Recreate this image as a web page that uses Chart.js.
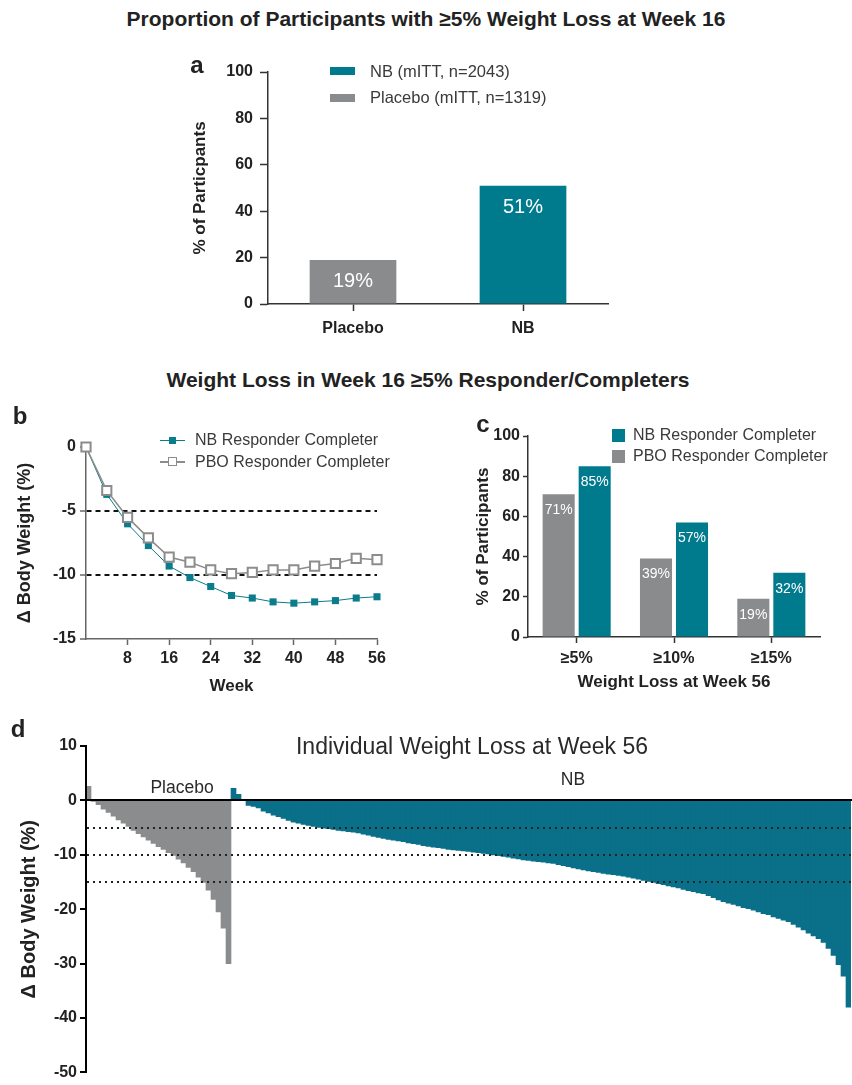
<!DOCTYPE html>
<html>
<head>
<meta charset="utf-8">
<script src="https://cdn.jsdelivr.net/npm/chart.js@4.4.1/dist/chart.umd.min.js"></script>
<style>
body { margin: 0; background: #fff; }
#page { position: relative; width: 852px; height: 1085px; overflow: hidden;
        font-family: Arial, "Liberation Sans", sans-serif; color: #222; }
#page canvas { position: absolute; }
.t { position: absolute; white-space: nowrap; transform: translate(-50%, -50%); }
.lg { position: absolute; white-space: nowrap; transform: translateY(-50%); font-size: 16px; color: #3a3a3a; }
.sw { position: absolute; box-sizing: border-box; }
</style>
</head>
<body>
<div id="page">
  <div class="t" style="left:426px;top:19px;font-weight:bold;font-size:21px">Proportion of Participants with ≥5% Weight Loss at Week 16</div>
  <canvas id="chartA" width="440" height="300" style="left:180px;top:40px"></canvas>
  <div class="t" style="left:197px;top:65px;font-weight:bold;font-size:24px">a</div>
  <div class="sw" style="left:330px;top:67px;width:25px;height:8px;background:#007b8e"></div>
  <div class="lg" style="left:370px;top:71px;font-size:16.5px">NB (mITT, n=2043)</div>
  <div class="sw" style="left:330px;top:94px;width:25px;height:8px;background:#898b8d"></div>
  <div class="lg" style="left:370px;top:97px;font-size:16.5px">Placebo (mITT, n=1319)</div>

  <div class="t" style="left:428px;top:380px;font-weight:bold;font-size:21px">Weight Loss in Week 16 ≥5% Responder/Completers</div>

  <canvas id="chartB" width="420" height="310" style="left:0px;top:390px"></canvas>
  <div class="t" style="left:20px;top:416px;font-weight:bold;font-size:24px">b</div>
  <div class="sw" style="left:160px;top:439.5px;width:25px;height:1px;background:#0a7c8c"></div>
  <div class="sw" style="left:169px;top:436.5px;width:7px;height:7px;background:#0a7c8c"></div>
  <div class="lg" style="left:195px;top:440px">NB Responder Completer</div>
  <div class="sw" style="left:160px;top:461px;width:25px;height:1.5px;background:#8c8c8c"></div>
  <div class="sw" style="left:168px;top:457px;width:9px;height:9px;background:#fff;border:1.5px solid #8c8c8c"></div>
  <div class="lg" style="left:195px;top:462px">PBO Responder Completer</div>

  <canvas id="chartC" width="412" height="300" style="left:440px;top:400px"></canvas>
  <div class="t" style="left:483px;top:424px;font-weight:bold;font-size:24px">c</div>
  <div class="sw" style="left:612px;top:429px;width:13px;height:13px;background:#007b8e"></div>
  <div class="lg" style="left:633px;top:435px">NB Responder Completer</div>
  <div class="sw" style="left:612px;top:450px;width:13px;height:13px;background:#898b8d"></div>
  <div class="lg" style="left:633px;top:456px">PBO Responder Completer</div>

  <canvas id="chartD" width="852" height="375" style="left:0px;top:710px"></canvas>
  <div class="t" style="left:18px;top:729px;font-weight:bold;font-size:24px">d</div>
  <div class="t" style="left:472px;top:746px;font-size:23px;color:#2a2a2a">Individual Weight Loss at Week 56</div>
  <div class="t" style="left:182px;top:787px;font-size:17.5px;color:#2a2a2a">Placebo</div>
  <div class="t" style="left:573px;top:779px;font-size:17.5px;color:#2a2a2a">NB</div>
</div>
<script>
// panel a: week 16 responders (mITT)
const groupsA = ['Placebo', 'NB'];
const respondersA = [19, 51];

// panel b: mean % change in body weight, week 16 >=5% responder/completers
const weeks = [0, 4, 8, 12, 16, 20, 24, 28, 32, 36, 40, 44, 48, 52, 56];
const nbChangeB = [0, -3.7, -6.0, -7.7, -9.3, -10.2, -10.9, -11.6, -11.8, -12.1, -12.2, -12.1, -12.0, -11.8, -11.7];
const pboChangeB = [0, -3.4, -5.5, -7.1, -8.6, -9.0, -9.6, -9.9, -9.8, -9.6, -9.6, -9.3, -9.1, -8.7, -8.8];

// panel c: weight loss categories at week 56
const thresholdsC = ['≥5%', '≥10%', '≥15%'];
const pboRespC = [71, 39, 19];
const nbRespC = [85, 57, 32];

// panel d: individual % change at week 56, sorted
const placeboIndividual = [2.6, -0.2, -0.8, -1.6, -2.2, -2.9, -3.6, -4.2, -4.8, -5.5,
  -6.1, -6.7, -7.3, -7.9, -8.5, -9.0, -9.6, -10.1, -10.8, -11.5,
  -12.3, -13.1, -14.1, -15.1, -16.5, -18.2, -20.5, -23.5, -30.0];
const nbIndividual = [2.2, 1.1, 0.2, -0.9, -1.1, -1.4, -2.0, -2.3, -2.7, -3.0,
  -3.3, -3.7, -4.0, -4.2, -4.4, -4.6, -4.8, -4.95, -5.1, -5.2,
  -5.35, -5.5, -5.6, -5.75, -5.85, -6.0, -6.2, -6.4, -6.6, -6.8,
  -7.0, -7.15, -7.3, -7.45, -7.6, -7.8, -7.95, -8.1, -8.3, -8.45,
  -8.6, -8.7, -8.85, -9.0, -9.1, -9.2, -9.3, -9.4, -9.5, -9.6,
  -9.75, -9.85, -10.0, -10.15, -10.3, -10.45, -10.6, -10.75, -10.95, -11.05,
  -11.15, -11.25, -11.35, -11.5, -11.6, -11.8, -12.0, -12.2, -12.4, -12.6,
  -12.8, -12.95, -13.1, -13.25, -13.4, -13.55, -13.65, -13.8, -13.95, -14.1,
  -14.3, -14.5, -14.7, -14.9, -15.1, -15.3, -15.5, -15.7, -15.9, -16.1,
  -16.35, -16.6, -16.8, -17.0, -17.15, -17.5, -17.9, -18.3, -18.6, -18.9,
  -19.1, -19.4, -19.7, -19.9, -20.2, -20.5, -20.8, -21.0, -21.4, -21.7,
  -22.0, -22.3, -22.8, -23.3, -23.8, -24.4, -24.9, -25.4, -26.1, -27.2,
  -28.5, -30.2, -32.3, -38.0];

const TEAL = '#007b8e';
const GRAY = '#898b8d';
const FONT = 'Arial, "Liberation Sans", sans-serif';
Chart.defaults.font.family = FONT;
Chart.defaults.color = '#222';

// white % labels inside the top of each bar
const barLabels = {
  id: 'barLabels',
  afterDatasetsDraw(chart, args, opts) {
    const ctx = chart.ctx;
    ctx.save();
    ctx.fillStyle = '#fff';
    ctx.font = opts.size + 'px ' + FONT;
    ctx.textAlign = 'center';
    ctx.textBaseline = 'middle';
    chart.data.datasets.forEach((ds, i) => {
      chart.getDatasetMeta(i).data.forEach((bar, j) => {
        ctx.fillText(ds.data[j] + '%', bar.x, bar.y + opts.offset);
      });
    });
    ctx.restore();
  }
};

const noPlugins = { legend: { display: false }, tooltip: { enabled: false } };

// a
new Chart(document.getElementById('chartA'), {
  type: 'bar',
  data: {
    labels: groupsA,
    datasets: [{ data: respondersA, backgroundColor: [GRAY, TEAL], barPercentage: 0.51, categoryPercentage: 1 }]
  },
  options: {
    responsive: false, animation: false,
    layout: { padding: { left: 0, top: 32, right: 12, bottom: 0 } },
    plugins: { ...noPlugins, barLabels: { size: 20, offset: 22 } },
    scales: {
      x: {
        afterFit: s => { s.height = 36; },
        grid: { drawOnChartArea: false, offset: false, tickLength: 7, tickColor: '#333', tickWidth: 1.5 },
        border: { color: '#333', width: 1.5 },
        ticks: { padding: 8, font: { size: 16, weight: 'bold' } }
      },
      y: {
        min: 0, max: 100,
        afterFit: s => { s.width = 88; },
        grid: { drawOnChartArea: false, tickLength: 8, tickColor: '#333', tickWidth: 1.5 },
        border: { color: '#333', width: 1.5 },
        ticks: { stepSize: 20, padding: 7, font: { size: 16, weight: 'bold' } },
        title: { display: true, text: '% of Particpants', font: { size: 17, weight: 'bold' }, padding: { top: 10, bottom: 0 } }
      }
    }
  },
  plugins: [barLabels]
});

// b
new Chart(document.getElementById('chartB'), {
  type: 'line',
  data: {
    datasets: [
      {
        label: 'NB Responder Completer', order: 2,
        data: weeks.map((w, i) => ({ x: w, y: nbChangeB[i] })),
        borderColor: '#0a7c8c', borderWidth: 1, pointStyle: 'rect', pointRadius: 5,
        pointBackgroundColor: '#0a7c8c', pointBorderColor: '#0a7c8c', pointBorderWidth: 0, clip: false
      },
      {
        label: 'PBO Responder Completer', order: 1,
        data: weeks.map((w, i) => ({ x: w, y: pboChangeB[i] })),
        borderColor: '#8c8c8c', borderWidth: 1.5, pointStyle: 'rect', pointRadius: 6.5,
        pointBackgroundColor: '#fff', pointBorderColor: '#8c8c8c', pointBorderWidth: 2, clip: false
      }
    ]
  },
  options: {
    responsive: false, animation: false,
    layout: { padding: { left: 0, top: 57, right: 43, bottom: 0 } },
    plugins: noPlugins,
    scales: {
      x: {
        type: 'linear', min: 0, max: 56,
        afterFit: s => { s.height = 61; },
        grid: { drawOnChartArea: false, tickLength: 6, tickWidth: 1.5,
                tickColor: c => c.tick && c.tick.value === 0 ? 'transparent' : '#666' },
        border: { color: '#666', width: 1.5 },
        ticks: { stepSize: 8, padding: 4, font: { size: 16, weight: 'bold' },
                 callback: v => v === 0 ? '' : v },
        title: { display: true, text: 'Week', font: { size: 17, weight: 'bold' }, padding: { top: 0, bottom: 3 } }
      },
      y: {
        min: -15, max: 0,
        afterFit: s => { s.width = 86; },
        grid: { lineWidth: 2, tickLength: 6, tickWidth: 1.5, tickColor: '#666',
                color: c => c.tick && (c.tick.value === -5 || c.tick.value === -10) ? '#111' : 'transparent' },
        border: { color: '#666', width: 1.5, dash: [5, 4] },
        ticks: { stepSize: 5, padding: 4, font: { size: 16, weight: 'bold' } },
        title: { display: true, text: 'Δ Body Weight (%)', font: { size: 18, weight: 'bold' }, padding: { top: 14, bottom: 0 } }
      }
    }
  }
});

// c
new Chart(document.getElementById('chartC'), {
  type: 'bar',
  data: {
    labels: thresholdsC,
    datasets: [
      { label: 'PBO Responder Completer', data: pboRespC, backgroundColor: GRAY, categoryPercentage: 0.74, barPercentage: 0.89 },
      { label: 'NB Responder Completer', data: nbRespC, backgroundColor: TEAL, categoryPercentage: 0.74, barPercentage: 0.89 }
    ]
  },
  options: {
    responsive: false, animation: false,
    layout: { padding: { left: 0, top: 36, right: 32, bottom: 0 } },
    plugins: { ...noPlugins, barLabels: { size: 14, offset: 16 } },
    scales: {
      x: {
        afterFit: s => { s.height = 63; },
        grid: { drawOnChartArea: false, offset: false, tickLength: 6, tickColor: '#333', tickWidth: 1.5 },
        border: { color: '#333', width: 1.5 },
        ticks: { padding: 6, font: { size: 16, weight: 'bold' } },
        title: { display: true, text: 'Weight Loss at Week 56', font: { size: 17, weight: 'bold' }, padding: { top: 0, bottom: 7 } }
      },
      y: {
        min: 0, max: 100,
        afterFit: s => { s.width = 88; },
        grid: { drawOnChartArea: false, tickLength: 5, tickColor: '#333', tickWidth: 1.5 },
        border: { color: '#333', width: 1.5 },
        ticks: { stepSize: 20, padding: 3, font: { size: 16, weight: 'bold' } },
        title: { display: true, text: '% of Participants', font: { size: 17, weight: 'bold' }, padding: { top: 33, bottom: 0 } }
      }
    }
  },
  plugins: [barLabels]
});

// d
const refLevels = [-5, -10, -15];
new Chart(document.getElementById('chartD'), {
  type: 'bar',
  data: {
    labels: placeboIndividual.concat(nbIndividual).map((v, i) => String(i + 1)),
    datasets: [
      { label: 'Placebo', data: placeboIndividual.concat(nbIndividual.map(() => null)),
        backgroundColor: '#8a8c8e', grouped: false, categoryPercentage: 1, barPercentage: 1, borderWidth: 0 },
      { label: 'NB', data: placeboIndividual.map(() => null).concat(nbIndividual),
        backgroundColor: '#0a6f89', grouped: false, categoryPercentage: 1, barPercentage: 1, borderWidth: 0 }
    ]
  },
  options: {
    responsive: false, animation: false,
    layout: { padding: { left: 0, top: 36, right: 1, bottom: 9 } },
    plugins: noPlugins,
    scales: {
      x: {
        position: { y: 0 },
        ticks: { display: false },
        grid: { drawOnChartArea: false, drawTicks: false },
        border: { color: '#000', width: 2, z: 1 }
      },
      y: {
        min: -50, max: 10,
        afterFit: s => { s.width = 86; },
        grid: { z: 1, lineWidth: 2, tickLength: 6, tickWidth: 2,
                color: c => c.tick && refLevels.includes(c.tick.value) ? '#222' : 'transparent',
                tickColor: c => c.tick && c.tick.value % 10 === 0 ? '#000' : 'transparent' },
        border: { color: '#000', width: 2, dash: [2, 4], z: 1 },
        ticks: { stepSize: 5, autoSkip: false, padding: 3, font: { size: 16, weight: 'bold' },
                 callback: v => v % 10 === 0 ? v : '' },
        title: { display: true, text: 'Δ Body Weight (%)', font: { size: 20, weight: 'bold' }, padding: { top: 17, bottom: 0 } }
      }
    }
  }
});
</script>
</body>
</html>
